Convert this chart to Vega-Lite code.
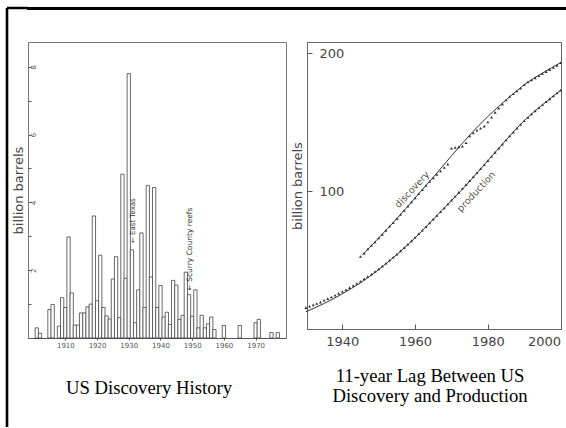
{
  "$schema": "https://vega.github.io/schema/vega-lite/v6.json",
  "padding": {"left": 5, "top": 6, "right": 0, "bottom": 0},
  "background": "white",
  "config": {
    "view": {"stroke": null},
    "axis": {"labelFont": "DejaVu Sans", "titleFont": "DejaVu Sans", "grid": false, "titleFontWeight": "normal"}
  },
  "datasets": {
    "bars": [
      {"year": 1901, "value": 0.30}, {"year": 1902, "value": 0.14}, {"year": 1905, "value": 0.84}, {"year": 1906, "value": 0.99},
      {"year": 1908, "value": 0.35}, {"year": 1909, "value": 1.19}, {"year": 1910, "value": 0.9}, {"year": 1911, "value": 2.98},
      {"year": 1912, "value": 1.33}, {"year": 1913, "value": 0.38}, {"year": 1914, "value": 0.38}, {"year": 1915, "value": 0.74},
      {"year": 1916, "value": 0.74}, {"year": 1917, "value": 0.92}, {"year": 1918, "value": 1.0}, {"year": 1919, "value": 3.6},
      {"year": 1920, "value": 1.1}, {"year": 1921, "value": 2.44}, {"year": 1922, "value": 0.9}, {"year": 1923, "value": 0.65},
      {"year": 1924, "value": 0.56}, {"year": 1925, "value": 1.74}, {"year": 1926, "value": 2.4}, {"year": 1927, "value": 0.6},
      {"year": 1928, "value": 4.83}, {"year": 1929, "value": 1.76}, {"year": 1930, "value": 7.8}, {"year": 1931, "value": 2.6},
      {"year": 1932, "value": 0.45}, {"year": 1933, "value": 1.42}, {"year": 1934, "value": 3.1}, {"year": 1935, "value": 0.9},
      {"year": 1936, "value": 4.5}, {"year": 1937, "value": 1.8}, {"year": 1938, "value": 4.44}, {"year": 1939, "value": 0.9},
      {"year": 1940, "value": 1.55}, {"year": 1941, "value": 0.62}, {"year": 1942, "value": 0.76}, {"year": 1943, "value": 0.4},
      {"year": 1944, "value": 1.7}, {"year": 1945, "value": 1.56}, {"year": 1946, "value": 0.55}, {"year": 1947, "value": 0.67},
      {"year": 1948, "value": 1.94}, {"year": 1949, "value": 1.28}, {"year": 1950, "value": 0.64}, {"year": 1951, "value": 1.42},
      {"year": 1952, "value": 0.3}, {"year": 1953, "value": 0.67}, {"year": 1954, "value": 0.3}, {"year": 1955, "value": 0.42},
      {"year": 1956, "value": 0.62}, {"year": 1957, "value": 0.25}, {"year": 1960, "value": 0.37}, {"year": 1965, "value": 0.37},
      {"year": 1970, "value": 0.45}, {"year": 1971, "value": 0.55}, {"year": 1975, "value": 0.16}, {"year": 1977, "value": 0.16}
    ],
    "fit": [
      {"series": "production", "year": 1930, "value": 12.5}, {"series": "production", "year": 1935, "value": 18.5},
      {"series": "production", "year": 1940, "value": 25.5}, {"series": "production", "year": 1945, "value": 33.5},
      {"series": "production", "year": 1950, "value": 43}, {"series": "production", "year": 1955, "value": 54},
      {"series": "production", "year": 1960, "value": 66}, {"series": "production", "year": 1965, "value": 79.5},
      {"series": "production", "year": 1970, "value": 93}, {"series": "production", "year": 1975, "value": 107},
      {"series": "production", "year": 1980, "value": 122}, {"series": "production", "year": 1985, "value": 137},
      {"series": "production", "year": 1990, "value": 151}, {"series": "production", "year": 1995, "value": 162.5},
      {"series": "production", "year": 2000, "value": 173},
      {"series": "discovery", "year": 1945.5, "value": 53.5}, {"series": "discovery", "year": 1950, "value": 66},
      {"series": "discovery", "year": 1955, "value": 80}, {"series": "discovery", "year": 1960, "value": 95},
      {"series": "discovery", "year": 1965, "value": 110}, {"series": "discovery", "year": 1970, "value": 125.5},
      {"series": "discovery", "year": 1975, "value": 140.5}, {"series": "discovery", "year": 1980, "value": 154},
      {"series": "discovery", "year": 1985, "value": 166}, {"series": "discovery", "year": 1990, "value": 177},
      {"series": "discovery", "year": 1995, "value": 185.5}, {"series": "discovery", "year": 2000, "value": 193}
    ],
    "obs": [
      {"series": "production", "year": 1930, "value": 15.5}, {"series": "production", "year": 1931, "value": 16.5},
      {"series": "production", "year": 1932, "value": 17.5}, {"series": "production", "year": 1933, "value": 18.5},
      {"series": "production", "year": 1934, "value": 19.5}, {"series": "production", "year": 1935, "value": 20.8},
      {"series": "production", "year": 1936, "value": 22}, {"series": "production", "year": 1937, "value": 23.2},
      {"series": "production", "year": 1938, "value": 24.5}, {"series": "production", "year": 1939, "value": 25.8},
      {"series": "production", "year": 1940, "value": 27.2}, {"series": "production", "year": 1941, "value": 28.5},
      {"series": "production", "year": 1942, "value": 30}, {"series": "production", "year": 1943, "value": 31.5},
      {"series": "production", "year": 1944, "value": 33}, {"series": "production", "year": 1945, "value": 34.6},
      {"series": "production", "year": 1946, "value": 36.3}, {"series": "production", "year": 1947, "value": 38},
      {"series": "production", "year": 1948, "value": 39.8}, {"series": "production", "year": 1949, "value": 41.7},
      {"series": "production", "year": 1950, "value": 43.6}, {"series": "production", "year": 1951, "value": 45.6},
      {"series": "production", "year": 1952, "value": 47.7}, {"series": "production", "year": 1953, "value": 49.8},
      {"series": "production", "year": 1954, "value": 52}, {"series": "production", "year": 1955, "value": 54.3},
      {"series": "production", "year": 1956, "value": 56.6}, {"series": "production", "year": 1957, "value": 59},
      {"series": "production", "year": 1958, "value": 61.4}, {"series": "production", "year": 1959, "value": 63.9},
      {"series": "production", "year": 1960, "value": 66.4}, {"series": "production", "year": 1961, "value": 69},
      {"series": "production", "year": 1962, "value": 71.6}, {"series": "production", "year": 1963, "value": 74.2},
      {"series": "production", "year": 1964, "value": 76.9}, {"series": "production", "year": 1965, "value": 79.6},
      {"series": "production", "year": 1966, "value": 82.3}, {"series": "production", "year": 1967, "value": 85},
      {"series": "production", "year": 1968, "value": 87.8}, {"series": "production", "year": 1969, "value": 90.6},
      {"series": "production", "year": 1970, "value": 93.4}, {"series": "production", "year": 1971, "value": 96.2},
      {"series": "production", "year": 1972, "value": 99}, {"series": "production", "year": 1973, "value": 101.8},
      {"series": "production", "year": 1974, "value": 104.6}, {"series": "production", "year": 1975, "value": 107.4},
      {"series": "production", "year": 1976, "value": 110.3}, {"series": "production", "year": 1977, "value": 113.2},
      {"series": "production", "year": 1978, "value": 116.1}, {"series": "production", "year": 1979, "value": 119},
      {"series": "production", "year": 1980, "value": 122}, {"series": "production", "year": 1981, "value": 125},
      {"series": "production", "year": 1982, "value": 128}, {"series": "production", "year": 1983, "value": 131},
      {"series": "production", "year": 1984, "value": 134}, {"series": "production", "year": 1985, "value": 137},
      {"series": "production", "year": 1986, "value": 139.9}, {"series": "production", "year": 1987, "value": 142.7},
      {"series": "production", "year": 1988, "value": 145.5}, {"series": "production", "year": 1989, "value": 148.2},
      {"series": "production", "year": 1990, "value": 150.9}, {"series": "production", "year": 1991, "value": 153.4},
      {"series": "production", "year": 1992, "value": 155.8}, {"series": "production", "year": 1993, "value": 158.1},
      {"series": "production", "year": 1994, "value": 160.3}, {"series": "production", "year": 1995, "value": 162.5},
      {"series": "production", "year": 1996, "value": 164.7}, {"series": "production", "year": 1997, "value": 166.8},
      {"series": "production", "year": 1998, "value": 168.9}, {"series": "production", "year": 1999, "value": 171},
      {"series": "production", "year": 2000, "value": 173},
      {"series": "discovery", "year": 1945, "value": 52.5}, {"series": "discovery", "year": 1946, "value": 55},
      {"series": "discovery", "year": 1947, "value": 58}, {"series": "discovery", "year": 1948, "value": 60.5},
      {"series": "discovery", "year": 1949, "value": 63}, {"series": "discovery", "year": 1950, "value": 66},
      {"series": "discovery", "year": 1951, "value": 68.5}, {"series": "discovery", "year": 1952, "value": 71.5},
      {"series": "discovery", "year": 1953, "value": 74.5}, {"series": "discovery", "year": 1954, "value": 77},
      {"series": "discovery", "year": 1955, "value": 80}, {"series": "discovery", "year": 1956, "value": 83},
      {"series": "discovery", "year": 1957, "value": 86}, {"series": "discovery", "year": 1958, "value": 89},
      {"series": "discovery", "year": 1959, "value": 92}, {"series": "discovery", "year": 1960, "value": 95},
      {"series": "discovery", "year": 1961, "value": 98}, {"series": "discovery", "year": 1962, "value": 101},
      {"series": "discovery", "year": 1963, "value": 104}, {"series": "discovery", "year": 1964, "value": 107},
      {"series": "discovery", "year": 1965, "value": 109.5}, {"series": "discovery", "year": 1966, "value": 112},
      {"series": "discovery", "year": 1967, "value": 114.5}, {"series": "discovery", "year": 1968, "value": 117},
      {"series": "discovery", "year": 1969, "value": 119.5}, {"series": "discovery", "year": 1970, "value": 131},
      {"series": "discovery", "year": 1971, "value": 131.5}, {"series": "discovery", "year": 1972, "value": 132},
      {"series": "discovery", "year": 1973, "value": 132.5}, {"series": "discovery", "year": 1974, "value": 135},
      {"series": "discovery", "year": 1975, "value": 140}, {"series": "discovery", "year": 1976, "value": 142},
      {"series": "discovery", "year": 1977, "value": 144}, {"series": "discovery", "year": 1978, "value": 145.5},
      {"series": "discovery", "year": 1979, "value": 147}, {"series": "discovery", "year": 1980, "value": 150},
      {"series": "discovery", "year": 1981, "value": 153.5}, {"series": "discovery", "year": 1982, "value": 157},
      {"series": "discovery", "year": 1983, "value": 160}, {"series": "discovery", "year": 1984, "value": 163},
      {"series": "discovery", "year": 1985, "value": 166}, {"series": "discovery", "year": 1986, "value": 168.5},
      {"series": "discovery", "year": 1987, "value": 170.5}, {"series": "discovery", "year": 1988, "value": 172.5},
      {"series": "discovery", "year": 1989, "value": 174.5}, {"series": "discovery", "year": 1990, "value": 177},
      {"series": "discovery", "year": 1991, "value": 179}, {"series": "discovery", "year": 1992, "value": 180.5},
      {"series": "discovery", "year": 1993, "value": 182}, {"series": "discovery", "year": 1994, "value": 183.5},
      {"series": "discovery", "year": 1995, "value": 185}, {"series": "discovery", "year": 1996, "value": 186.5},
      {"series": "discovery", "year": 1997, "value": 188}, {"series": "discovery", "year": 1998, "value": 189.5},
      {"series": "discovery", "year": 1999, "value": 191}, {"series": "discovery", "year": 2000, "value": 193}
    ]
  },
  "spacing": 0,
  "bounds": "flush",
  "hconcat": [
    {
      "width": 21, "height": 419,
      "view": {"stroke": "black", "strokeWidth": 2.6, "strokeDash": [21, 440, 419, 0]},
      "data": {"values": []},
      "mark": "rule",
      "encoding": {}
    },
    {
      "spacing": 33,
      "bounds": "flush",
      "vconcat": [
        {
          "width": 537, "height": 1,
          "view": {"stroke": "black", "strokeWidth": 2},
          "data": {"values": []},
          "mark": "rule",
          "encoding": {}
        },
        {
          "spacing": 21,
          "bounds": "flush",
          "hconcat": [
            {
              "width": 258, "height": 296,
              "view": {"stroke": "#777", "strokeWidth": 1},
              "title": {"text": "US Discovery History", "orient": "bottom", "font": "Liberation Serif", "fontSize": 18.7, "fontWeight": "normal", "color": "black", "anchor": "middle", "dx": -8, "offset": 31},
              "layer": [
                {
                  "data": {"name": "bars"},
                  "mark": {"type": "bar", "fill": "white", "stroke": "#444", "strokeWidth": 0.8, "width": 3.3},
                  "encoding": {
                    "x": {"field": "year", "type": "quantitative",
                      "scale": {"domain": [1899.8, 1978], "nice": false, "zero": false},
                      "axis": {"values": [1910, 1920, 1930, 1940, 1950, 1960, 1970], "format": "d", "title": null,
                        "labelFontSize": 7, "labelColor": "#555", "tickColor": "#555", "tickSize": 2, "domainColor": "#555", "labelPadding": 1}},
                    "y": {"field": "value", "type": "quantitative",
                      "scale": {"domain": [0, 8.73], "nice": false},
                      "axis": {"values": [1, 2, 3, 4, 5, 6, 7, 8],
                        "labelExpr": "datum.value % 2 == 0 ? datum.label : ''",
                        "labelAngle": 270, "labelAlign": "center", "labelBaseline": "top",
                        "labelFontSize": 7, "labelColor": "#555", "tickSize": -3, "tickColor": "#555", "labelPadding": 2,
                        "domainColor": "#777",
                        "title": "billion barrels", "titleFontSize": 13, "titleColor": "#444", "titlePadding": 2}}
                  }
                },
                {
                  "data": {"values": [{}]},
                  "mark": {"type": "text", "angle": 270, "align": "left", "baseline": "middle", "fontSize": 7, "font": "DejaVu Sans", "color": "#333"},
                  "encoding": {"x": {"datum": 1931.3}, "y": {"datum": 2.8}, "text": {"value": "← East Texas"}}
                },
                {
                  "data": {"values": [{}]},
                  "mark": {"type": "text", "angle": 270, "align": "left", "baseline": "middle", "fontSize": 7.5, "font": "DejaVu Sans", "color": "#333"},
                  "encoding": {"x": {"datum": 1949.4}, "y": {"datum": 1.4}, "text": {"value": "← Scurry County reefs"}}
                }
              ]
            },
            {
              "width": 254, "height": 287,
              "view": {"stroke": "#666", "strokeWidth": 1},
              "title": {"text": ["11-year Lag Between US", "Discovery and Production"], "orient": "bottom", "font": "Liberation Serif", "fontSize": 18.7, "lineHeight": 20, "fontWeight": "normal", "color": "black", "anchor": "middle", "dx": -4, "offset": 19},
              "layer": [
                {
                  "data": {"name": "fit"},
                  "mark": {"type": "line", "interpolate": "monotone", "color": "#333", "strokeWidth": 1},
                  "encoding": {
                    "x": {"field": "year", "type": "quantitative",
                      "scale": {"domain": [1930.3, 2000.1], "nice": false, "zero": false},
                      "axis": {"values": [1940, 1960, 1980, 2000], "format": "d", "title": null, "labelFlush": 4,
                        "labelFontSize": 13, "labelColor": "#444", "tickColor": "#555", "tickSize": -5, "domainColor": "#666", "labelPadding": 11}},
                    "y": {"field": "value", "type": "quantitative",
                      "scale": {"domain": [0, 208], "nice": false},
                      "axis": {"values": [100, 200], "labelAlign": "left", "labelBaseline": "middle",
                        "labelFontSize": 13, "labelColor": "#444", "tickColor": "#555", "tickSize": -5, "labelPadding": -7,
                        "domainColor": "#666",
                        "title": "billion barrels", "titleFontSize": 13, "titleColor": "#444", "titlePadding": 2}},
                    "detail": {"field": "series"}
                  }
                },
                {
                  "data": {"name": "obs"},
                  "mark": {"type": "point", "shape": "triangle-up", "filled": true, "size": 9, "color": "#333", "opacity": 1},
                  "encoding": {
                    "x": {"field": "year", "type": "quantitative"},
                    "y": {"field": "value", "type": "quantitative"}
                  }
                },
                {
                  "data": {"values": [{}]},
                  "mark": {"type": "text", "angle": 313, "fontSize": 9.5, "font": "DejaVu Sans", "color": "#555"},
                  "encoding": {"x": {"datum": 1959.2}, "y": {"datum": 101}, "text": {"value": "discovery"}}
                },
                {
                  "data": {"values": [{}]},
                  "mark": {"type": "text", "angle": 313, "fontSize": 9.5, "font": "DejaVu Sans", "color": "#555"},
                  "encoding": {"x": {"datum": 1976.8}, "y": {"datum": 99.5}, "text": {"value": "production"}}
                }
              ]
            }
          ]
        }
      ]
    }
  ]
}
